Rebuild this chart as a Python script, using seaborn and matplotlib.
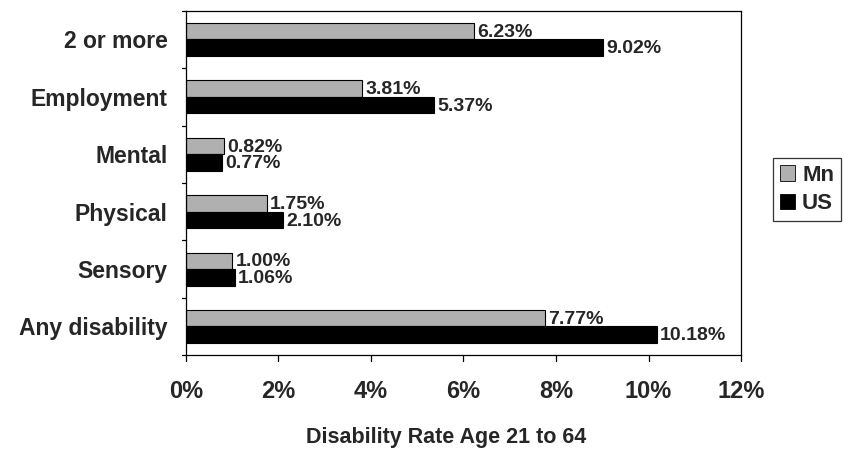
import matplotlib
matplotlib.use("Agg")
import matplotlib.pyplot as plt
import seaborn as sns
import pandas as pd
import numpy as np
from matplotlib.patches import Patch

categories = ["2 or more", "Employment", "Mental", "Physical", "Sensory", "Any disability"]
series = ["Mn", "US"]
mn_values = [6.23, 3.81, 0.82, 1.75, 1.00, 7.77]
us_values = [9.02, 5.37, 0.77, 2.10, 1.06, 10.18]
x_ticks = [0, 2, 4, 6, 8, 10, 12]

colors = {"Mn": "#b0b0b0", "US": "#000000"}

df = pd.DataFrame({
    "category": categories * 2,
    "series": ["Mn"] * len(categories) + ["US"] * len(categories),
    "value": mn_values + us_values,
})

sns.set_theme(style="white")
plt.rcParams["font.family"] = ["Liberation Sans", "DejaVu Sans"]
plt.rcParams["font.weight"] = "bold"

fig = plt.figure(figsize=(8.45, 4.49), dpi=100)
ax = fig.add_axes([0.220, 0.209, 0.657, 0.767])

sns.barplot(data=df, y="category", x="value", hue="series", order=categories,
            hue_order=series, palette=colors, orient="h", width=0.575,
            edgecolor="black", linewidth=0.8, saturation=1, legend=False, ax=ax)

for container, s in zip(ax.containers, series):
    vals = mn_values if s == "Mn" else us_values
    for bar, v in zip(container, vals):
        ax.text(bar.get_width() + 0.07, bar.get_y() + bar.get_height() / 2 + 0.02,
                f"{v:.2f}%", ha="left", va="center", fontsize=14, fontweight="bold")

ax.set_xlim(0, 12)
ax.set_ylim(len(categories) - 0.5, -0.5)
ax.set_xticks(x_ticks)
ax.set_xticklabels([f"{t}%" for t in x_ticks], fontsize=17, fontweight="bold")
ax.set_yticks(range(len(categories)))
ax.set_yticklabels(categories, fontsize=16.5, fontweight="bold")
ax.tick_params(axis="y", length=0, pad=13)
ax.tick_params(axis="x", length=0, pad=18)

# boundary ticks between categories on the y axis, and value ticks on the x axis
for b in np.arange(-0.5, len(categories), 1.0):
    ax.plot([-0.09, 0], [b, b], color="black", lw=0.9, clip_on=False)
for t in x_ticks:
    ax.plot([t, t], [len(categories) - 0.5, len(categories) - 0.5 + 0.1],
            color="black", lw=0.9, clip_on=False)

ax.set_xlabel("Disability Rate Age 21 to 64", fontsize=15.5, fontweight="bold")
ax.xaxis.set_label_coords(0.469, -0.21)
ax.set_ylabel("")
for sp in ax.spines.values():
    sp.set_visible(True)
    sp.set_color("black")
    sp.set_linewidth(0.9)

handles = [Patch(facecolor=colors[s], edgecolor="black", linewidth=0.6, label=s) for s in series]
leg = fig.legend(handles=handles, loc="center left", bbox_to_anchor=(0.915, 0.578),
                 frameon=True, fancybox=False, edgecolor="black", fontsize=16,
                 handlelength=0.7, handleheight=0.7, handletextpad=0.3,
                 borderpad=0.3, labelspacing=0.35, borderaxespad=0)
leg.get_frame().set_linewidth(0.9)
for txt in leg.get_texts():
    txt.set_fontweight("bold")

fig.savefig("out.png", dpi=100)
